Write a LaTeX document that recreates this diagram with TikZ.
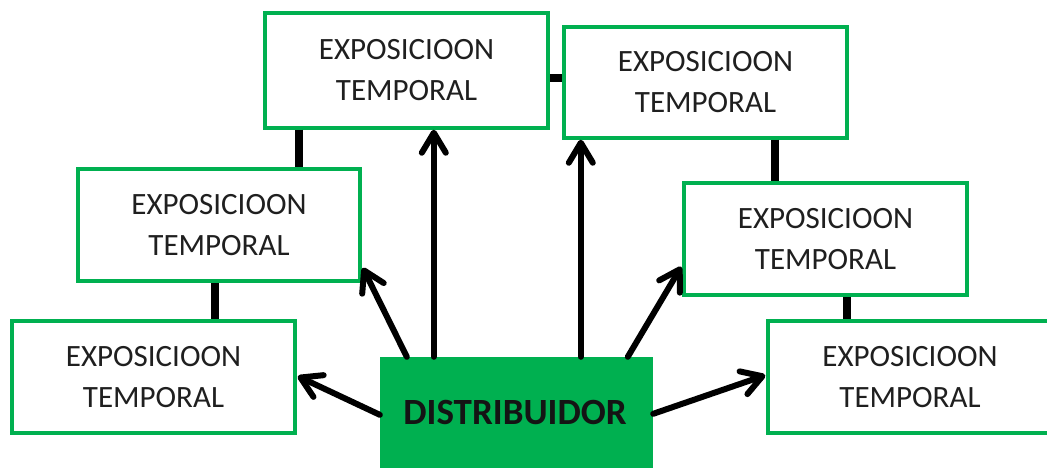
\documentclass[tikz,border=0pt]{standalone}
\usepackage{fontspec}
\setmainfont{Carlito}
\usetikzlibrary{arrows.meta,calc,shadows}
\definecolor{offgreen}{HTML}{00B050}
\tikzset{
  expbox/.style={draw=offgreen, line width=3.5pt, fill=white, rectangle, inner sep=0pt,
    align=center, font=\fontsize{31}{41}\selectfont, text=black!88,
    drop shadow={shadow xshift=1.5pt, shadow yshift=-1.5pt, fill=black!45, opacity=.6}},
  distbox/.style={fill=offgreen, rectangle, inner sep=0pt},
  arr/.style={line width=6pt, line cap=round, line join=round,
    -{Straight Barb[length=20pt,width=24pt,round]}},
  stub/.style={line width=8pt}
}
\begin{document}
\begin{tikzpicture}[x=1pt,y=-1pt]
\useasboundingbox (0,0) rectangle (1047,468);
\begin{scope}
\clip (0,0) rectangle (1047,468);
\node[expbox, minimum width=283pt, minimum height=115pt] (b1) at (406.5,70.5) {EXPOSICIOON\\TEMPORAL};
\node[expbox, minimum width=283pt, minimum height=111pt] (b2) at (705.5,82.5) {EXPOSICIOON\\TEMPORAL};
\node[expbox, minimum width=282pt, minimum height=112pt] (b3) at (219,225) {EXPOSICIOON\\TEMPORAL};
\node[expbox, minimum width=283pt, minimum height=112pt] (b4) at (825.5,239) {EXPOSICIOON\\TEMPORAL};
\node[expbox, minimum width=283pt, minimum height=112pt] (b5) at (153.5,377) {EXPOSICIOON\\TEMPORAL};
\node[expbox, minimum width=284pt, minimum height=112pt] (b6) at (910,377) {EXPOSICIOON\\TEMPORAL};
\node[distbox, minimum width=273pt, minimum height=114pt] (dist) at (516.5,414) {};
\node[font=\bfseries\fontsize{37}{40}\selectfont, text=black!92] (distlabel) at (515,413) {DISTRIBUIDOR};

% reference x positions for stubs and vertical arrows
\coordinate (s13) at ($(b1.south west)+(35.75,0)$);
\coordinate (s35) at ($(b3.south west)+(138.75,0)$);
\coordinate (s24) at ($(b2.south east)+(-73.75,0)$);
\coordinate (s46) at ($(b4.south east)+(-121.75,0)$);
\coordinate (s12) at ($(b1.north east)+(0,66.75)$);
\coordinate (v1) at ($(dist.north west)+(54,0)$);
\coordinate (v2) at ($(dist.north west)+(201,0)$);

% stubs between boxes
\draw[stub] (s12) -- (b2.west |- s12);
\draw[stub] (s13) -- (b3.north -| s13);
\draw[stub] (s35) -- (b5.north -| s35);
\draw[stub] (s24) -- (b4.north -| s24);
\draw[stub] (s46) -- (b6.north -| s46);

% arrows from distributor
\draw[arr] ($(dist.north west)+(0,58)$) -- ($(b5.north east)+(1,57)$);
\draw[arr] ($(dist.north west)+(27,0)$) -- ($(b3.south east)+(1,-15)$);
\draw[arr] (v1) -- (b1.south -| v1);
\draw[arr] (v2) -- (b2.south -| v2);
\draw[arr] ($(dist.north west)+(248,0)$) -- ($(b4.south west)+(-1,-30)$);
\draw[arr] ($(dist.north east)+(0,57)$) -- ($(b6.north west)+(-1,56)$);
\end{scope}
\end{tikzpicture}
\end{document}
